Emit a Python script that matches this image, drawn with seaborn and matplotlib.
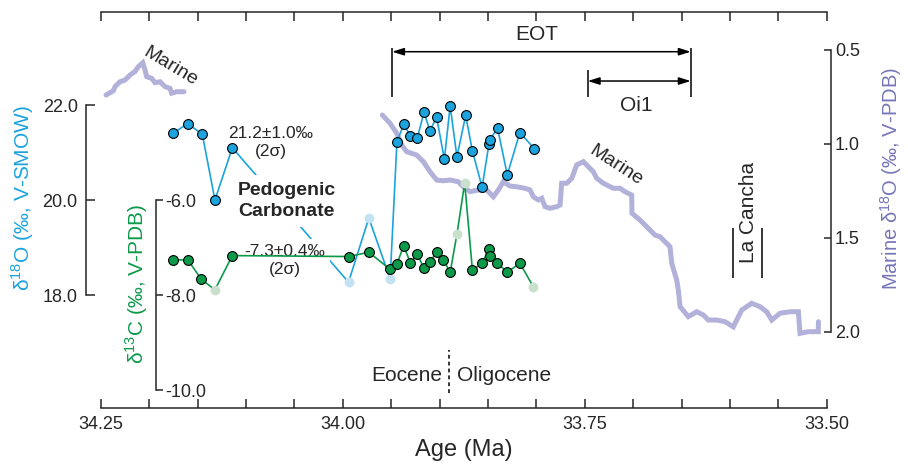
import numpy as np
import pandas as pd
import matplotlib
matplotlib.use('Agg')
import matplotlib.pyplot as plt
import seaborn as sns
from matplotlib.ticker import MultipleLocator, FormatStrFormatter

# pedogenic carbonate d18O (V-SMOW)
o18_age = [34.175, 34.160, 34.145, 34.132, 34.114, 33.994, 33.973, 33.951,
           33.944, 33.937, 33.930, 33.923, 33.916, 33.910, 33.903, 33.895,
           33.889, 33.882, 33.873, 33.866, 33.856, 33.849, 33.848, 33.840,
           33.830, 33.817, 33.802]
o18_val = [21.41, 21.61, 21.38, 20.00, 21.10, 18.27, 19.62, 18.34,
           21.22, 21.59, 21.35, 21.30, 21.85, 21.46, 21.74, 20.86,
           21.98, 20.91, 21.78, 21.03, 20.27, 21.17, 21.27, 21.51,
           20.53, 21.42, 21.08]
o18_pale = [0, 0, 0, 0, 0, 1, 1, 1, 0, 0, 0, 0, 0, 0, 0, 0, 0, 0, 0, 0, 0, 0, 0, 0, 0, 0, 0]

# pedogenic carbonate d13C (V-PDB)
c13_age = [34.175, 34.160, 34.146, 34.132, 34.114, 33.994, 33.973, 33.951,
           33.944, 33.937, 33.930, 33.923, 33.916, 33.910, 33.903, 33.896,
           33.889, 33.882, 33.874, 33.866, 33.856, 33.849, 33.848, 33.841,
           33.830, 33.817, 33.803]
c13_val = [-7.26, -7.26, -7.67, -7.89, -7.17, -7.19, -7.10, -7.46,
           -7.35, -6.96, -7.33, -7.14, -7.44, -7.31, -7.10, -7.26,
           -7.52, -6.72, -5.64, -7.48, -7.33, -7.03, -7.17, -7.32,
           -7.52, -7.33, -7.83]
c13_pale = [0, 0, 0, 1, 0, 0, 0, 0, 0, 0, 0, 0, 0, 0, 0, 0, 0, 1, 1, 0, 0, 0, 0, 0, 0, 0, 1]

# marine benthic d18O (V-PDB), two stretches
marine_age_a = [34.2445, 34.237, 34.2352, 34.2301, 34.2249, 34.2197, 34.2146,
                34.2112, 34.2066, 34.2042, 34.2025, 34.1973, 34.1939, 34.1887,
                34.1836, 34.1784, 34.1767, 34.1715, 34.164]
marine_val_a = [0.740, 0.717, 0.695, 0.669, 0.660, 0.633, 0.615,
                0.589, 0.568, 0.606, 0.642, 0.651, 0.674, 0.669,
                0.695, 0.704, 0.730, 0.722, 0.722]
marine_age_b = [33.9591, 33.9511, 33.9442, 33.9390, 33.9339, 33.9236, 33.9167,
                33.9098, 33.9029, 33.8961, 33.8892, 33.8806, 33.8754, 33.8685,
                33.8599, 33.8512, 33.8444, 33.8393, 33.8341, 33.8272, 33.8202,
                33.8117, 33.8065, 33.8031, 33.7979, 33.7944, 33.7910, 33.7858,
                33.7789, 33.7755, 33.7738, 33.7686, 33.7634, 33.7583, 33.7514,
                33.7463, 33.7411, 33.7376, 33.7308, 33.7205, 33.7135, 33.7084,
                33.7015, 33.7012, 33.6929, 33.6825, 33.6774, 33.6722, 33.6619,
                33.6601, 33.6550, 33.6533, 33.6515, 33.6430, 33.6343, 33.6275,
                33.6223, 33.6136, 33.6051, 33.5965, 33.5878, 33.5775, 33.5689,
                33.5620, 33.5568, 33.5483, 33.5379, 33.5293, 33.5276, 33.5190,
                33.5087, 33.5086]
marine_val_b = [0.846, 0.890, 0.943, 1.006, 1.041, 1.059, 1.094,
                1.148, 1.192, 1.196, 1.192, 1.201, 1.228, 1.254,
                1.245, 1.245, 1.281, 1.245, 1.201, 1.224, 1.228,
                1.236, 1.245, 1.281, 1.298, 1.289, 1.334, 1.342,
                1.334, 1.325, 1.209, 1.209, 1.183, 1.112, 1.094,
                1.121, 1.148, 1.183, 1.209, 1.236, 1.236, 1.254,
                1.272, 1.369, 1.405, 1.458, 1.485, 1.494, 1.547,
                1.635, 1.724, 1.777, 1.866, 1.919, 1.893, 1.910,
                1.937, 1.937, 1.946, 1.973, 1.884, 1.848, 1.866,
                1.893, 1.937, 1.901, 1.893, 1.893, 2.008, 1.999,
                1.999, 1.946]

BLUE = '#1ba3de'
BLUE_PALE = '#c3e2f4'
GREEN = '#0c9a4a'
GREEN_PALE = '#c9e1cc'
LAV = '#b2b1da'
LAV_TXT = '#7675b8'

sns.set_style('ticks')
plt.rcParams['font.family'] = ['Liberation Sans', 'DejaVu Sans']
plt.rcParams['mathtext.fontset'] = 'custom'
plt.rcParams['mathtext.rm'] = 'Liberation Sans'
plt.rcParams['axes.unicode_minus'] = False
plt.rcParams['axes.linewidth'] = 1.1

o18 = pd.DataFrame({'age': o18_age, 'val': o18_val, 'pale': o18_pale})
c13 = pd.DataFrame({'age': c13_age, 'val': c13_val, 'pale': c13_pale})
mar_a = pd.DataFrame({'age': marine_age_a, 'val': marine_val_a})
mar_b = pd.DataFrame({'age': marine_age_b, 'val': marine_val_b})

fig = plt.figure(figsize=(9.08, 4.67), dpi=100)
ax = fig.add_axes([0.1109, 0.1263, 0.7996, 0.848])
ax_c = ax.twinx()
ax_m = ax.twinx()
ax_m.set_zorder(0)
ax.set_zorder(1)
ax_c.set_zorder(2)
for a in (ax, ax_c, ax_m):
    a.patch.set_visible(False)

# marine curve (bottom layer)
for seg in (mar_a, mar_b):
    sns.lineplot(x='age', y='val', data=seg, ax=ax_m, sort=False, estimator=None,
                 color=LAV, lw=3.6, solid_joinstyle='miter')

# d18O
sns.lineplot(x='age', y='val', data=o18, ax=ax, sort=False, estimator=None,
             color=BLUE, lw=1.2, zorder=2)
sns.scatterplot(x='age', y='val', data=o18[o18.pale == 1], ax=ax, color=BLUE_PALE,
                s=50, linewidth=0, zorder=5)
sns.scatterplot(x='age', y='val', data=o18[o18.pale == 0], ax=ax, color=BLUE,
                s=50, edgecolor='black', linewidth=0.8, zorder=5)

# d13C
sns.lineplot(x='age', y='val', data=c13, ax=ax_c, sort=False, estimator=None,
             color=GREEN, lw=1.2, zorder=2)
sns.scatterplot(x='age', y='val', data=c13[c13.pale == 1], ax=ax_c, color=GREEN_PALE,
                s=50, linewidth=0, zorder=5)
sns.scatterplot(x='age', y='val', data=c13[c13.pale == 0], ax=ax_c, color=GREEN,
                s=50, edgecolor='black', linewidth=0.8, zorder=5)

# limits
ax.set_xlim(34.25, 33.50)
ax.set_ylim(15.621, 23.958)
ax_c.set_ylim(-10.379, -2.042)
ax_m.set_ylim(2.4053, 0.2978)

# x axis
ax.xaxis.set_major_locator(MultipleLocator(0.25))
ax.xaxis.set_minor_locator(MultipleLocator(0.05))
ax.xaxis.set_major_formatter(FormatStrFormatter('%.2f'))
ax.tick_params(axis='x', which='both', top=True, bottom=True, direction='in',
               length=6.5, width=1.1, labelsize=13, pad=6)
ax.set_xlabel('Age (Ma)', fontsize=17, labelpad=4)

# left d18O axis
ax.spines['right'].set_visible(False)
ax.spines['left'].set_position(('outward', 10.6))
ax.spines['left'].set_bounds(18, 22)
ax.set_yticks([18, 20, 22])
ax.yaxis.set_major_formatter(FormatStrFormatter('%.1f'))
ax.tick_params(axis='y', direction='in', length=6.5, width=1.1, labelsize=13, pad=6)
ax.set_ylabel('')
ax.text(-0.107, 0.53, r'δ$^{18}$O (‰, V-SMOW)', transform=ax.transAxes, rotation=90,
        ha='center', va='center', fontsize=15, color=BLUE)

# inner d13C axis
for s in ('left', 'top', 'bottom'):
    ax_c.spines[s].set_visible(False)
ax_c.spines['right'].set_position(('axes', 0.0762))
ax_c.spines['right'].set_bounds(-10, -6)
ax_c.set_yticks([-10, -8, -6])
ax_c.yaxis.set_major_formatter(FormatStrFormatter('%.1f'))
ax_c.tick_params(axis='y', direction='out', length=5, width=1.1, labelsize=13, pad=1.5)
ax_c.set_ylabel('')
ax_c.text(0.05, 0.313, r'δ$^{13}$C (‰, V-PDB)', transform=ax_c.transAxes, rotation=90,
          ha='center', va='center', fontsize=15, color=GREEN)

# right marine axis
for s in ('left', 'top', 'bottom'):
    ax_m.spines[s].set_visible(False)
ax_m.spines['right'].set_position(('outward', 3))
ax_m.spines['right'].set_bounds(0.5, 2.0)
ax_m.set_yticks([0.5, 1.0, 1.5, 2.0])
ax_m.yaxis.set_major_formatter(FormatStrFormatter('%.1f'))
ax_m.tick_params(axis='y', direction='in', length=5, width=1.1, labelsize=13, pad=3)
ax_m.set_ylabel('')
ax_m.text(1.089, 0.58, r'Marine δ$^{18}$O (‰, V-PDB)', transform=ax_m.transAxes,
          rotation=90, ha='center', va='center', fontsize=14.5, color=LAV_TXT)

# annotations
box = dict(facecolor='white', edgecolor='none', pad=3)
ax.text(34.178, 22.8, 'Marine', rotation=-31, ha='center', va='center', fontsize=14)
ax.text(33.7177, 20.716, 'Marine', rotation=-33, ha='center', va='center', fontsize=14)
ax.text(34.074, 21.22, '21.2±1.0‰\n(2σ)', ha='center', va='center', fontsize=12.5,
        linespacing=1.25, zorder=3)
ax.text(34.108, 19.98, 'Pedogenic\nCarbonate', ha='left', va='center', fontsize=14,
        fontweight='bold', linespacing=1.3, bbox=dict(facecolor='white', edgecolor='none', pad=5),
        zorder=3)
ax.text(34.0597, 18.737, '-7.3±0.4‰\n(2σ)', ha='center', va='center', fontsize=12.5,
        linespacing=1.25, bbox=box, zorder=3)

# EOT and Oi1 brackets
ax.vlines([33.949, 33.6405], 22.168, 23.2, color='black', lw=1.1)
ax.vlines(33.7469, 22.168, 22.737, color='black', lw=1.1)
arrow = dict(arrowstyle='<|-|>,head_length=0.7,head_width=0.22', color='black', lw=1.1,
             shrinkA=0, shrinkB=0)
ax.annotate('', xy=(33.6405, 23.122), xytext=(33.949, 23.122), arrowprops=arrow)
ax.annotate('', xy=(33.6405, 22.505), xytext=(33.7469, 22.505), arrowprops=arrow)
ax.text(33.7996, 23.474, 'EOT', ha='center', va='center', fontsize=15)
ax.text(33.6963, 22.0, 'Oi1', ha='center', va='center', fontsize=15)

# La Cancha
ax.text(33.581, 19.747, 'La Cancha', rotation=90, ha='center', va='center', fontsize=15)
ax.vlines([33.5971, 33.5672], 18.358, 19.411, color='black', lw=1.1)

# Eocene / Oligocene boundary
ax.vlines(33.89, 15.937, 16.842, color='black', lw=1.1, linestyles=(0, (2.5, 2)))
ax.text(33.897, 16.3, 'Eocene', ha='right', va='center', fontsize=15)
ax.text(33.882, 16.3, 'Oligocene', ha='left', va='center', fontsize=15)

fig.savefig('out.png', dpi=100)
